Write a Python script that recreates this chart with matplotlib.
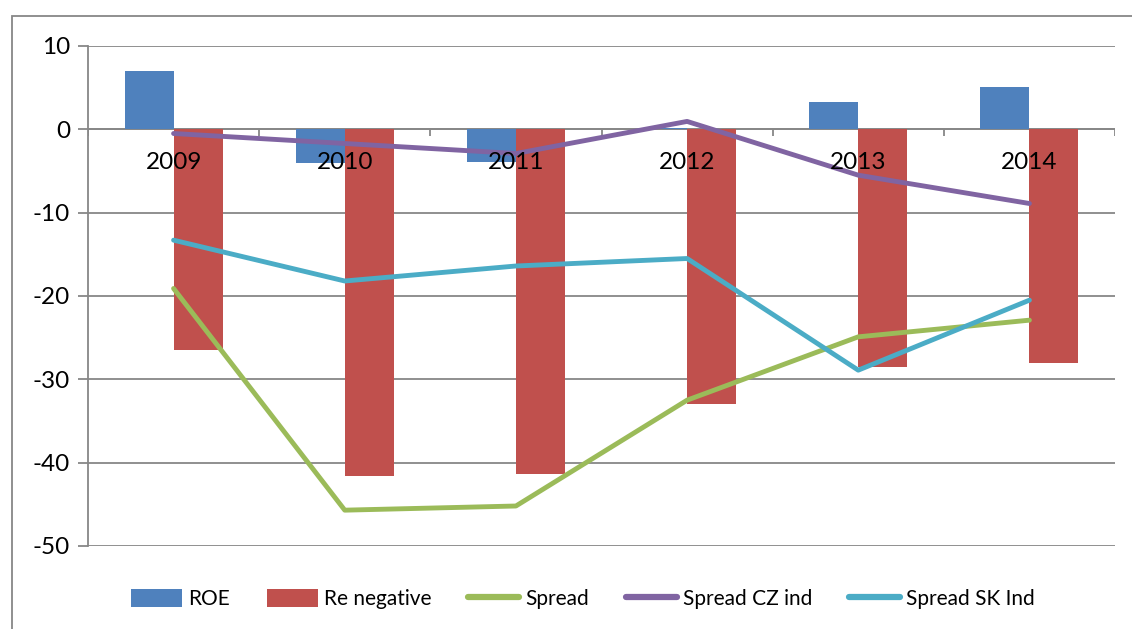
import matplotlib
matplotlib.use("Agg")
import matplotlib.pyplot as plt
from matplotlib.patches import Rectangle
from matplotlib.lines import Line2D
from matplotlib.patches import Patch
import numpy as np

years = ["2009", "2010", "2011", "2012", "2013", "2014"]
roe = [7.0, -4.1, -3.9, 0.2, 3.3, 5.1]
re_negative = [-26.5, -41.6, -41.4, -32.9, -28.5, -28.0]
spread = [-19.1, -45.7, -45.2, -32.5, -24.9, -22.9]
spread_cz = [-0.5, -1.7, -2.9, 0.95, -5.5, -8.9]
spread_sk = [-13.3, -18.2, -16.4, -15.5, -28.9, -20.5]

c_blue = "#4F81BD"
c_red = "#C0504D"
c_green = "#9BBB59"
c_purple = "#8064A2"
c_cyan = "#4BACC6"
grid_c = "#878787"

plt.rcParams["font.family"] = ["Lato", "DejaVu Sans"]
plt.rcParams["axes.unicode_minus"] = False

W, H = 1132, 629
fig = plt.figure(figsize=(W / 100, H / 100), dpi=100)
ax = fig.add_axes([88 / W, (H - 546) / H, (1115 - 88) / W, 500 / H])

x = np.arange(len(years))
bw = 0.286
ax.bar(x - bw / 2, roe, width=bw, color=c_blue, zorder=2)
ax.bar(x + bw / 2, re_negative, width=bw, color=c_red, zorder=2)
ax.plot(x, spread, color=c_green, lw=3.5, zorder=4, solid_capstyle="round")
ax.plot(x, spread_cz, color=c_purple, lw=3.5, zorder=4, solid_capstyle="round")
ax.plot(x, spread_sk, color=c_cyan, lw=3.5, zorder=4, solid_capstyle="round")

ax.set_xlim(-0.5, len(years) - 0.5)
ax.set_ylim(-50, 10)
ax.set_yticks(np.arange(-50, 11, 10))
ax.yaxis.grid(True, color=grid_c, lw=1.3, zorder=0)
ax.set_axisbelow(True)
ax.set_xticks([])
for s in ["top", "right", "bottom"]:
    ax.spines[s].set_visible(False)
ax.spines["left"].set_color(grid_c)
ax.spines["left"].set_linewidth(1.3)
ax.tick_params(axis="y", colors=grid_c, length=7, width=1.3, labelsize=17.5,
               labelcolor="black", pad=6)

# category axis along zero with boundary ticks
ax.axhline(0, color=grid_c, lw=1.3, zorder=1)
ax.vlines(np.arange(len(years) + 1) - 0.5, -0.85, 0, color=grid_c, lw=1.3, zorder=1)
for xi, lab in zip(x, years):
    ax.text(xi, -4.0, lab, ha="center", va="center", fontsize=17.5, zorder=5)

handles = [
    Patch(facecolor=c_blue, label="ROE"),
    Patch(facecolor=c_red, label="Re negative"),
    Line2D([], [], color=c_green, lw=4.5, label="Spread", solid_capstyle="round"),
    Line2D([], [], color=c_purple, lw=4.5, label="Spread CZ ind", solid_capstyle="round"),
    Line2D([], [], color=c_cyan, lw=4.5, label="Spread SK Ind", solid_capstyle="round"),
]
fig.legend(handles=handles, loc="center", bbox_to_anchor=(583 / W, 1 - 599 / H),
           ncol=5, frameon=False, fontsize=15, handlelength=2.45, handleheight=1.0,
           handletextpad=0.3, columnspacing=1.75)

fig.patches.append(Rectangle((12 / W, -0.1), 1.2, 1 - 16 / H + 0.1,
                             transform=fig.transFigure, fill=False,
                             edgecolor=grid_c, lw=1.3))

fig.savefig("out.png", dpi=100)
